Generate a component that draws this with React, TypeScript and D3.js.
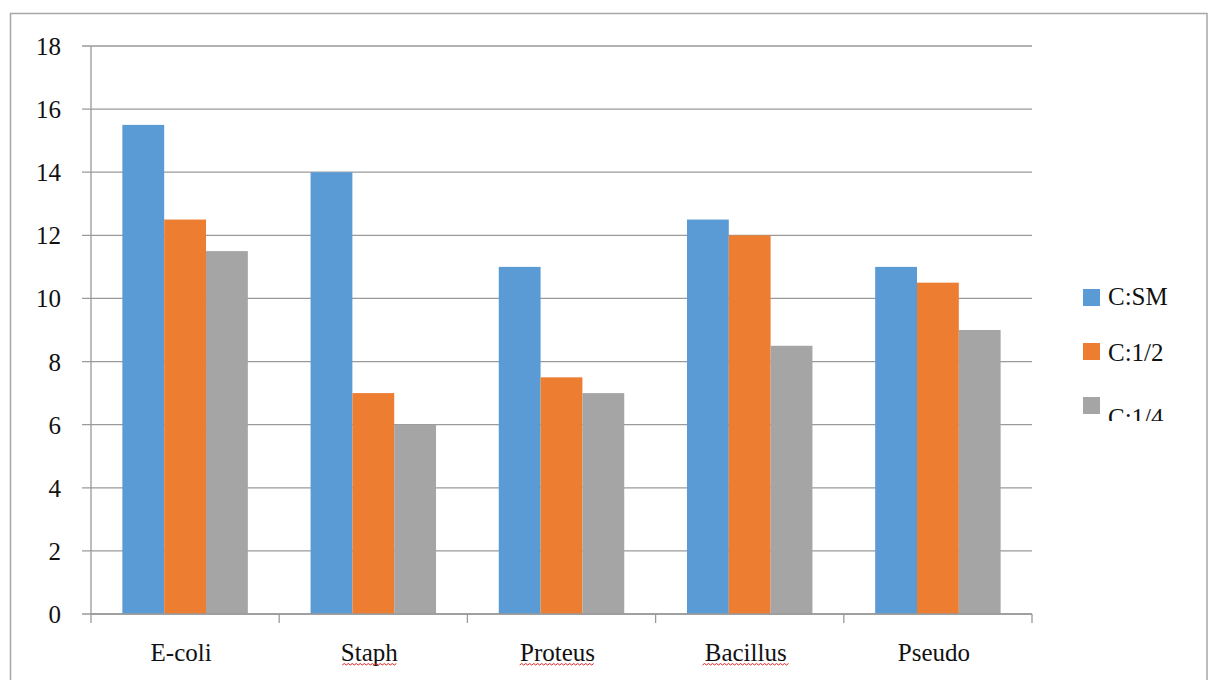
import React from "react";
import * as d3 from "d3";

const categories = ["E-coli", "Staph", "Proteus", "Bacillus", "Pseudo"];
const seriesNames = ["C:SM", "C:1/2", "C:1/4"];
const smValues = [15.5, 14, 11, 12.5, 11];
const halfValues = [12.5, 7, 7.5, 12, 10.5];
const quarterValues = [11.5, 6, 7, 8.5, 9];
const yTicks = [0, 2, 4, 6, 8, 10, 12, 14, 16, 18];
const spellFlagged = ["Staph", "Proteus", "Bacillus"];

const colors = ["#5b9bd5", "#ed7d31", "#a5a5a5"];
const series = [smValues, halfValues, quarterValues];

const W = 1211;
const H = 680;
const left = 91;
const right = 1032;
const top = 46;
const bottom = 614;
const textStyle: React.CSSProperties = {
  fontFamily: '"Liberation Serif", "Times New Roman", Times, "DejaVu Serif", serif',
  fontSize: 25,
};

function squiggle(x0: number, x1: number, y: number): string {
  let d = `M${x0},${y}`;
  let up = true;
  for (let x = x0 + 2; x <= x1; x += 2) {
    d += ` L${x},${up ? y - 1.5 : y}`;
    up = !up;
  }
  return d;
}

export default function App() {
  const x = d3.scaleBand<string>().domain(categories).range([left, right]).paddingInner(0).paddingOuter(0);
  const y = d3.scaleLinear().domain([0, 18]).range([bottom, top]);
  const bw = x.bandwidth() / 4.5;
  const inner = d3
    .scaleBand<number>()
    .domain([0, 1, 2])
    .range([0, bw * 3]);

  const boundaries = [...categories.map((c) => x(c) as number), right];

  return (
    <svg
      width={W}
      height={H}
      style={{ position: "absolute", left: 0, top: 0, background: "#fff" }}
    >
      <defs>
        <clipPath id="legclip">
          <rect x={1040} y={0} width={165} height={421} />
        </clipPath>
      </defs>
      <rect x={0} y={0} width={W} height={H} fill="#fff" />
      <rect x={10.5} y={13.5} width={1196.5} height={700} fill="none" stroke="#a6a6a6" strokeWidth={1.5} />
      {yTicks.map((t) => (
        <line key={t} x1={82} x2={right} y1={y(t)} y2={y(t)} stroke="#9a9a9a" strokeWidth={1.3} />
      ))}
      <line x1={left} x2={left} y1={top} y2={bottom} stroke="#9a9a9a" strokeWidth={1.3} />
      {categories.map((c, i) => (
        <g key={c}>
          {series.map((s, k) => (
            <rect
              key={k}
              x={(x(c) as number) + 0.75 * bw + (inner(k) as number)}
              y={y(s[i])}
              width={inner.bandwidth()}
              height={bottom - y(s[i])}
              fill={colors[k]}
            />
          ))}
        </g>
      ))}
      <line x1={left} x2={right} y1={bottom} y2={bottom} stroke="#9a9a9a" strokeWidth={1.3} />
      {boundaries.map((b, i) => (
        <line key={i} x1={b} x2={b} y1={bottom} y2={bottom + 9} stroke="#9a9a9a" strokeWidth={1.3} />
      ))}
      {yTicks.map((t) => (
        <text key={t} x={61} y={y(t) + 9} textAnchor="end" style={textStyle} fill="#111">
          {t}
        </text>
      ))}
      {categories.map((c) => {
        const cx = (x(c) as number) + x.bandwidth() / 2 - 4;
        const w = c.length * 10.8;
        return (
          <g key={c}>
            <text x={cx} y={661} textAnchor="middle" style={textStyle} fill="#111">
              {c}
            </text>
            {spellFlagged.includes(c) && (
              <path d={squiggle(cx - w / 2, cx + w / 2, 665)} fill="none" stroke="#e02020" strokeWidth={1} />
            )}
          </g>
        );
      })}
      <g clipPath="url(#legclip)">
        {seriesNames.map((n, k) => {
          const sy = 289 + k * 54;
          const baselines = [305, 361, 426];
          return (
            <g key={n}>
              <rect x={1083} y={sy} width={17} height={17} fill={colors[k]} />
              <text x={1108} y={baselines[k]} style={textStyle} fill="#111">
                {n}
              </text>
            </g>
          );
        })}
      </g>
    </svg>
  );
}
